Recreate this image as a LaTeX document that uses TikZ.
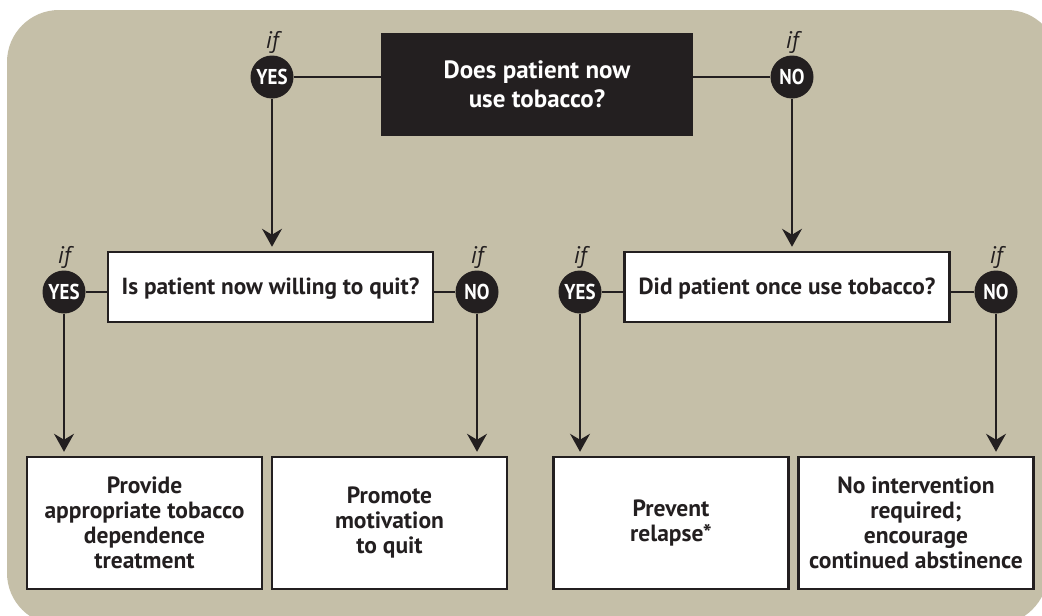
\documentclass[tikz,border=0pt]{standalone}
\usepackage{fontspec}
\setmainfont{PT Sans}
\newfontfamily\yesnofont[FakeStretch=0.88]{PT Sans}
\usetikzlibrary{arrows.meta}
\definecolor{tanbg}{RGB}{197,191,168}
\definecolor{ink}{RGB}{35,31,32}
\tikzset{
	askbox/.style={fill=ink, text=white, minimum width=312pt, minimum height=103pt, inner sep=0pt, align=center, font=\bfseries\fontsize{25}{29}\selectfont},
	qbox/.style={draw=ink, line width=2.5pt, fill=white, text=ink, minimum width=325pt, minimum height=70pt, inner sep=0pt, text depth=1pt, font=\bfseries\fontsize{23.3}{25}\selectfont},
	endbox/.style={draw=ink, line width=2.5pt, fill=white, text=ink, minimum width=235pt, minimum height=132pt, inner sep=0pt, align=center, font=\bfseries\fontsize{23.5}{25}\selectfont},
	yesno/.style={circle, fill=ink, text=white, minimum size=43pt, inner sep=0pt, font=\yesnofont\bfseries\fontsize{21.5}{21.5}\selectfont},
	iflabel/.style={text=ink, inner sep=0pt, font=\itshape\fontsize{24}{24}\selectfont},
	link/.style={draw=ink, line width=1.4pt},
	flow/.style={link, shorten >=4pt, -{Stealth[length=18pt,width=20pt,inset=6pt]}}
}

\begin{document}
\begin{tikzpicture}[x=1pt, y=-1pt]
	%%%%% START %%%%%
	\useasboundingbox (0, 0) rectangle (1042, 616);
	\clip (0, 0) rectangle (1042, 616);
	\fill[white] (0, 0) rectangle (1042, 616);
	\fill[tanbg, rounded corners=52pt] (7, 10) -- (1059, 10) -- (1047, 625) -- (7, 625) -- cycle;
	
	% first question
	\node[askbox] (ask0) at (537, 84.5) {Does patient now\\use tobacco?};
	\node[yesno] (yes0) at (272, 77) {YES};
	\node[yesno] (no0) at (792, 77) {NO};
	\node[iflabel] (ifyes0) at (272, 42) {if};
	\node[iflabel] (ifno0) at (792, 42) {if};
	
	% second row
	\node[qbox] (ask1) at (270.5, 287) {Is patient now willing to quit?};
	\node[qbox] (ask2) at (787, 287) {Did patient once use tobacco?};
	\node[yesno] (yes1) at (64, 292) {YES};
	\node[yesno] (no1) at (477, 292) {NO};
	\node[yesno] (yes2) at (580, 292) {YES};
	\node[yesno] (no2) at (996, 292) {NO};
	\node[iflabel] (ifyes1) at (64, 257) {if};
	\node[iflabel] (ifno1) at (477, 257) {if};
	\node[iflabel] (ifyes2) at (580, 257) {if};
	\node[iflabel] (ifno2) at (996, 257) {if};
	
	% outcomes
	\node[endbox] (treat) at (144.5, 523) {Provide\\appropriate tobacco\\dependence\\treatment};
	\node[endbox] (motiv) at (389.5, 523) {Promote\\motivation\\to quit};
	\node[endbox] (relapse) at (671, 523) {Prevent\\relapse*};
	\node[endbox] (abst) at (916, 523) {No intervention\\required;\\encourage\\continued abstinence};
	
	\draw[link] (yes0) -- (yes0 -| ask0.west);
	\draw[link] (no0) -- (no0 -| ask0.east);
	\draw[flow] (yes0) -- (yes0 |- ask1.north);
	\draw[flow] (no0) -- (no0 |- ask2.north);
	
	\draw[link] (yes1) -- (yes1 -| ask1.west);
	\draw[link] (no1) -- (no1 -| ask1.east);
	\draw[link] (yes2) -- (yes2 -| ask2.west);
	\draw[link] (no2) -- (no2 -| ask2.east);
	
	\draw[flow] (yes1) -- (yes1 |- treat.north);
	\draw[flow] (no1) -- (no1 |- motiv.north);
	\draw[flow] (yes2) -- (yes2 |- relapse.north);
	\draw[flow] (no2) -- (no2 |- abst.north);
	%%%%% END %%%%%
\end{tikzpicture}
\end{document}
